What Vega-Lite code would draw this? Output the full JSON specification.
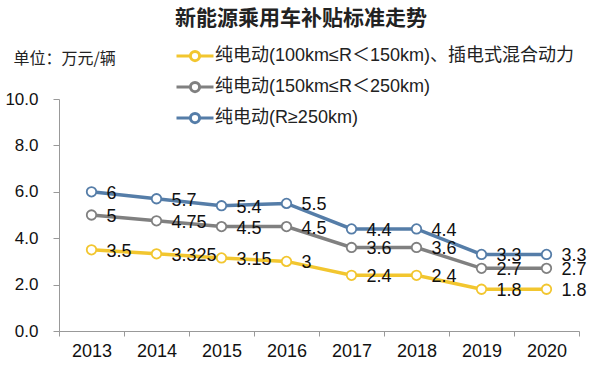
{
  "$schema": "https://vega.github.io/schema/vega-lite/v6.json",
  "width": 520,
  "height": 232,
  "autosize": {"type": "none"},
  "padding": {"left": 59, "top": 99, "right": 21, "bottom": 55},
  "background": "white",
  "title": {"text": "新能源乘用车补贴标准走势", "fontSize": 21, "fontWeight": "bold", "font": "Noto Sans CJK SC", "color": "#222", "anchor": "middle", "frame": "group", "dx": -18, "offset": 7},
  "config": {"view": {"stroke": null}, "font": "Liberation Sans, Noto Sans CJK SC"},
  "data": {"values": [
    {"year": "2013", "series": "纯电动(100km≤R＜150km)、插电式混合动力", "value": 3.5},
    {"year": "2014", "series": "纯电动(100km≤R＜150km)、插电式混合动力", "value": 3.325},
    {"year": "2015", "series": "纯电动(100km≤R＜150km)、插电式混合动力", "value": 3.15},
    {"year": "2016", "series": "纯电动(100km≤R＜150km)、插电式混合动力", "value": 3},
    {"year": "2017", "series": "纯电动(100km≤R＜150km)、插电式混合动力", "value": 2.4},
    {"year": "2018", "series": "纯电动(100km≤R＜150km)、插电式混合动力", "value": 2.4},
    {"year": "2019", "series": "纯电动(100km≤R＜150km)、插电式混合动力", "value": 1.8},
    {"year": "2020", "series": "纯电动(100km≤R＜150km)、插电式混合动力", "value": 1.8},
    {"year": "2013", "series": "纯电动(150km≤R＜250km)", "value": 5},
    {"year": "2014", "series": "纯电动(150km≤R＜250km)", "value": 4.75},
    {"year": "2015", "series": "纯电动(150km≤R＜250km)", "value": 4.5},
    {"year": "2016", "series": "纯电动(150km≤R＜250km)", "value": 4.5},
    {"year": "2017", "series": "纯电动(150km≤R＜250km)", "value": 3.6},
    {"year": "2018", "series": "纯电动(150km≤R＜250km)", "value": 3.6},
    {"year": "2019", "series": "纯电动(150km≤R＜250km)", "value": 2.7},
    {"year": "2020", "series": "纯电动(150km≤R＜250km)", "value": 2.7},
    {"year": "2013", "series": "纯电动(R≥250km)", "value": 6},
    {"year": "2014", "series": "纯电动(R≥250km)", "value": 5.7},
    {"year": "2015", "series": "纯电动(R≥250km)", "value": 5.4},
    {"year": "2016", "series": "纯电动(R≥250km)", "value": 5.5},
    {"year": "2017", "series": "纯电动(R≥250km)", "value": 4.4},
    {"year": "2018", "series": "纯电动(R≥250km)", "value": 4.4},
    {"year": "2019", "series": "纯电动(R≥250km)", "value": 3.3},
    {"year": "2020", "series": "纯电动(R≥250km)", "value": 3.3}
  ]},
  "encoding": {
    "x": {"field": "year", "type": "ordinal", "scale": {"type": "band", "paddingInner": 0, "paddingOuter": 0},
      "axis": {"title": null, "labelAngle": 0, "labelFontSize": 18, "labelColor": "#111", "tickSize": 5, "tickBand": "extent", "domainColor": "#999", "tickColor": "#999", "labelPadding": 6}},
    "y": {"field": "value", "type": "quantitative", "scale": {"domain": [0, 10], "nice": false},
      "axis": {"values": [0, 2, 4, 6, 8, 10], "format": ".1f", "grid": false, "domainColor": "#999", "tickColor": "#999", "tickSize": 6, "labelPadding": 15, "labelFontSize": 17, "labelColor": "#111",
        "title": "单位：万元/辆", "titleAngle": 0, "titleX": -46, "titleY": -41, "titleAlign": "left", "titleBaseline": "middle", "titleFontSize": 16, "titleFontWeight": "normal", "titleFont": "Noto Sans CJK SC", "titleColor": "#222"}}
  },
  "layer": [
    {"mark": {"type": "line", "strokeWidth": 3.5},
     "encoding": {"stroke": {"field": "series", "type": "nominal",
      "scale": {"domain": ["纯电动(100km≤R＜150km)、插电式混合动力", "纯电动(150km≤R＜250km)", "纯电动(R≥250km)"], "range": ["#F2C62F", "#808080", "#557DA8"]},
      "legend": {"title": null, "orient": "none", "legendX": 116, "legendY": -63, "direction": "vertical", "labelFontSize": 18, "labelFont": "Liberation Sans, Noto Sans CJK SC", "labelColor": "#222", "labelLimit": 450, "rowPadding": 0,
        "symbolType": "M-1,0L-0.25,0A0.25,0.25 0 1 1 0.25,0A0.25,0.25 0 1 1 -0.25,0M0.25,0L1,0", "symbolSize": 1369, "symbolStrokeWidth": 3, "symbolFillColor": "white", "labelOffset": 0,
        "encode": {"symbols": {"update": {"fill": {"value": "white"}, "strokeWidth": {"value": 3}}}}}}}},
    {"mark": {"type": "point", "filled": false, "fill": "white", "size": 90, "strokeWidth": 1.8, "opacity": 1},
     "encoding": {"stroke": {"field": "series", "type": "nominal", "legend": null}}},
    {"mark": {"type": "text", "align": "left", "dx": 15, "dy": 2, "fontSize": 18, "color": "#111"}, "encoding": {"text": {"field": "value", "type": "quantitative"}}}
  ]
}
